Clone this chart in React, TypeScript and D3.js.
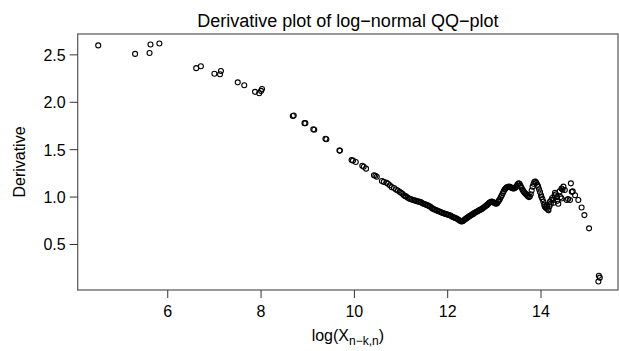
import React from "react";
import * as d3 from "d3";

const sparseX = [4.51, 5.30, 5.61, 5.63, 5.82, 6.61, 6.71, 7.00, 7.12, 7.14, 7.50, 7.64, 7.87, 7.96, 8.00, 8.02,
  8.68, 8.70, 8.93, 8.95, 9.12, 9.14, 9.38, 9.40, 9.68, 9.69, 9.94, 9.97, 10.03, 10.17, 10.20, 10.25,
  10.42, 10.45, 10.48, 10.59, 10.63, 10.69, 10.72, 10.76];
const sparseY = [2.60, 2.51, 2.52, 2.61, 2.62, 2.36, 2.38, 2.30, 2.295, 2.33, 2.21, 2.18, 2.11, 2.095, 2.12, 2.14,
  1.855, 1.86, 1.78, 1.78, 1.715, 1.71, 1.615, 1.61, 1.49, 1.49, 1.39, 1.385, 1.37, 1.33, 1.32, 1.30,
  1.23, 1.225, 1.215, 1.17, 1.16, 1.15, 1.14, 1.125];

const denseX = [10.80, 10.85, 10.89, 10.93, 10.97, 11.00, 11.03, 11.06, 11.09, 11.11, 11.14, 11.17, 11.20, 11.23, 11.26, 11.29, 11.32, 11.35, 11.38, 11.41,
  11.43, 11.46, 11.48, 11.51, 11.53, 11.56, 11.58, 11.61, 11.63, 11.66, 11.68, 11.71, 11.73, 11.76, 11.78, 11.81, 11.83, 11.86, 11.88, 11.91, 11.93, 11.96, 11.98, 12.01, 12.03, 12.06, 12.08, 12.11, 12.13, 12.16, 12.18, 12.21, 12.23, 12.26, 12.28, 12.30,
  12.32, 12.34, 12.36, 12.38, 12.40, 12.42, 12.44, 12.46, 12.48, 12.50, 12.52, 12.54, 12.56, 12.58, 12.60, 12.62, 12.64, 12.66, 12.68, 12.70, 12.72, 12.74, 12.76, 12.78, 12.80, 12.82, 12.84, 12.86, 12.88, 12.90, 12.92, 12.94,
  12.96, 12.98, 13.00, 13.02, 13.04, 13.06, 13.08,
  13.10, 13.12, 13.14, 13.16, 13.18, 13.20, 13.22, 13.24, 13.26,
  13.28, 13.30, 13.32, 13.34, 13.36, 13.38, 13.40, 13.42, 13.44, 13.46, 13.48, 13.50, 13.52, 13.54, 13.56, 13.58, 13.60, 13.62, 13.64, 13.66, 13.68, 13.70, 13.72, 13.74, 13.76, 13.78, 13.80, 13.82, 13.84, 13.86, 13.88, 13.90, 13.92, 13.94, 13.96, 13.98];
const denseY = [1.105, 1.095, 1.08, 1.07, 1.055, 1.045, 1.035, 1.02, 1.01, 1.005, 0.995, 0.985, 0.98, 0.975, 0.97, 0.965, 0.96, 0.955, 0.952, 0.948,
  0.944, 0.935, 0.93, 0.925, 0.922, 0.915, 0.91, 0.902, 0.897, 0.885, 0.878, 0.872, 0.866, 0.86, 0.855, 0.85, 0.846, 0.84, 0.835, 0.83, 0.826, 0.822, 0.818, 0.814, 0.81, 0.805, 0.798, 0.79, 0.786, 0.78, 0.776, 0.768, 0.76, 0.752, 0.745, 0.742,
  0.745, 0.752, 0.76, 0.768, 0.775, 0.782, 0.79, 0.796, 0.802, 0.808, 0.815, 0.82, 0.828, 0.835, 0.84, 0.846, 0.85, 0.855, 0.862, 0.866, 0.872, 0.878, 0.885, 0.892, 0.90, 0.908, 0.915, 0.925, 0.935, 0.942, 0.948, 0.952,
  0.95, 0.945, 0.938, 0.932, 0.93, 0.935, 0.95,
  0.965, 0.98, 1.0, 1.02, 1.04, 1.06, 1.08, 1.09, 1.10,
  1.105, 1.108, 1.11, 1.105, 1.10, 1.095, 1.09, 1.09, 1.095, 1.105, 1.12, 1.135, 1.145, 1.14, 1.12, 1.10, 1.08, 1.065, 1.05, 1.04, 1.03, 1.02, 1.01, 1.00, 1.005, 1.03, 1.07, 1.11, 1.14, 1.16, 1.165, 1.15, 1.13, 1.11, 1.08, 1.05];

const tailX = [14.00, 14.01, 14.03, 14.05, 14.07, 14.08, 14.10, 14.12, 14.13, 14.15, 14.16, 14.18, 14.19, 14.21, 14.22, 14.24, 14.26, 14.27, 14.29, 14.30, 14.32, 14.34, 14.35, 14.37, 14.40, 14.42, 14.44, 14.44, 14.46, 14.48, 14.51, 14.55, 14.58, 14.62, 14.64, 14.66, 14.68, 14.73, 14.80, 14.87, 14.93, 15.03, 15.23, 15.24, 15.26];
const tailY = [1.02, 1.00, 0.98, 0.95, 0.92, 0.90, 0.89, 0.88, 0.91, 0.87, 0.86, 0.90, 0.95, 0.93, 0.97, 0.99, 0.97, 0.94, 1.02, 1.045, 1.03, 1.00, 0.96, 0.93, 1.06, 1.00, 0.985, 1.09, 1.08, 1.11, 1.075, 0.97, 0.98, 0.97, 1.145, 1.055, 1.06, 1.02, 0.97, 0.89, 0.81, 0.67, 0.11, 0.17, 0.15];

const xTicks = [6, 8, 10, 12, 14];
const yTicks = [0.5, 1.0, 1.5, 2.0, 2.5];

const W = 619, H = 351;
const L = 77.7, R = 618, T = 34, B = 290;

export default function App() {
  const x = d3.scaleLinear().domain([4.07, 15.65]).range([L, R]);
  const y = d3.scaleLinear().domain([0.02, 2.72]).range([B, T]);
  const allX = [...sparseX, ...denseX, ...tailX];
  const allY = [...sparseY, ...denseY, ...tailY];
  const font = "'Liberation Sans', Arial, Helvetica, sans-serif";
  const fmt = d3.format(".1f");
  return (
    <svg width={W} height={H} style={{ position: "absolute", left: 0, top: 0, background: "#fff" }} fontFamily={font}>
      <rect x={0} y={0} width={W} height={H} fill="#fff" />
      <text x={(L + R) / 2} y={27} textAnchor="middle" fontSize={18} fill="#000">Derivative plot of log−normal QQ−plot</text>
      <rect x={L} y={T} width={R - L} height={B - T} fill="none" stroke="#555" strokeWidth={1.2} />
      {xTicks.map((t) => (
        <g key={t}>
          <line x1={x(t)} x2={x(t)} y1={B} y2={B + 8} stroke="#333" />
          <text x={x(t)} y={317} textAnchor="middle" fontSize={16}>{t}</text>
        </g>
      ))}
      {yTicks.map((t) => (
        <g key={t}>
          <line x1={L - 8} x2={L} y1={y(t)} y2={y(t)} stroke="#333" />
          <text x={L - 12} y={y(t) + 6} textAnchor="end" fontSize={16}>{fmt(t)}</text>
        </g>
      ))}
      <text x={(L + R) / 2} y={341} textAnchor="middle" fontSize={16}>
        log(X<tspan dy={4} fontSize={12}>n−k,n</tspan><tspan dy={-4}>)</tspan>
      </text>
      <text transform={`translate(25,${(T + B) / 2}) rotate(-90)`} textAnchor="middle" fontSize={16}>Derivative</text>
      {allX.map((v, i) => (
        <circle key={i} cx={x(v)} cy={y(allY[i])} r={2.5} fill="none" stroke="#000" strokeWidth={1.1} />
      ))}
    </svg>
  );
}
